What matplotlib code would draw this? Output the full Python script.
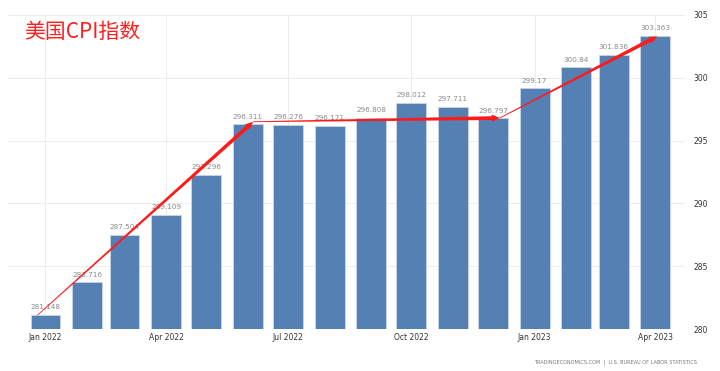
import matplotlib.pyplot as plt
import matplotlib.dates as mdates
import numpy as np
import pandas as pd
from matplotlib.patches import Polygon

months = pd.date_range("2022-01-01", "2023-04-01", freq="MS")
cpi = [281.148, 283.716, 287.504, 289.109, 292.296, 296.311, 296.276, 296.171,
       296.808, 298.012, 297.711, 296.797, 299.17, 300.84, 301.836, 303.363]
bar_labels = ["281.148", "283.716", "287.504", "289.109", "292.296", "296.311",
              "296.276", "296.171", "296.808", "298.012", "297.711", "296.797",
              "299.17", "300.84", "301.836", "303.363"]
tick_dates = pd.to_datetime(["2022-01-01", "2022-04-01", "2022-07-01",
                             "2022-10-01", "2023-01-01", "2023-04-01"])
tick_labels = ["Jan 2022", "Apr 2022", "Jul 2022", "Oct 2022", "Jan 2023", "Apr 2023"]
y_ticks = [280, 285, 290, 295, 300, 305]

# hand-drawn trend arrows: (month index, day offset, value)
arrow_points = [(0, -6, 281.1), (5, 4, 296.5), (11, 5, 296.8), (15, 1.5, 303.3)]

fig = plt.figure(figsize=(7.2, 3.71), dpi=100)
ax = fig.add_axes([0.011, 0.1132, 0.94, 0.8464])

x = mdates.date2num(months)
ax.bar(x, np.array(cpi) - 280, bottom=280, width=22.3, color="#5580b4",
       edgecolor="#c9d6e8", linewidth=0.6, zorder=2)

for xi, v, lab in zip(x, cpi, bar_labels):
    ax.text(xi, v + 0.35, lab, ha="center", va="bottom", fontsize=5.2,
            color="#8a8a8a", zorder=3)

ax.set_xlim(mdates.date2num(pd.Timestamp("2021-12-04")),
            mdates.date2num(pd.Timestamp("2023-04-23")))
ax.set_ylim(280, 305)
ax.set_xticks(mdates.date2num(tick_dates))
ax.set_xticklabels(tick_labels, fontsize=5.5, color="#333333")
ax.set_yticks(y_ticks)
ax.set_yticklabels([str(t) for t in y_ticks], fontsize=5.5, color="#333333")
ax.yaxis.tick_right()
ax.tick_params(length=0)
ax.tick_params(axis="x", pad=3)
ax.tick_params(axis="y", pad=6)
ax.grid(True, color="#ececec", linewidth=0.7, zorder=0)
for s in ax.spines.values():
    s.set_visible(False)

fig.text(0.034, 0.915, "美国CPI指数", fontsize=15, color="#ff2020",
         family=["Noto Sans CJK SC", "DejaVu Sans"], ha="left", va="center")
fig.text(0.968, 0.024, "TRADINGECONOMICS.COM  |  U.S. BUREAU OF LABOR STATISTICS",
         fontsize=3.6, color="#777777", ha="right", va="center")


def tapered_arrow(p0, p1, w0=0.4, w1=1.9, head_len=8, head_w=3.6):
    # thin-to-thick arrow built in pixel space
    a = ax.transData.transform(p0)
    b = ax.transData.transform(p1)
    d = b - a
    u = d / np.hypot(*d)
    n = np.array([-u[1], u[0]])
    hb = b - u * head_len
    pts = [a + n * w0, hb + n * w1, hb + n * head_w, b,
           hb - n * head_w, hb - n * w1, a - n * w0]
    ax.add_patch(Polygon(pts, closed=True, transform=None, color="#ff1a1a",
                         linewidth=0, zorder=5))


fig.canvas.draw()
pts = [(x[i] + dd, v) for i, dd, v in arrow_points]
for s, e in zip(pts[:-1], pts[1:]):
    tapered_arrow(s, e)

fig.savefig("out.png", dpi=100)
